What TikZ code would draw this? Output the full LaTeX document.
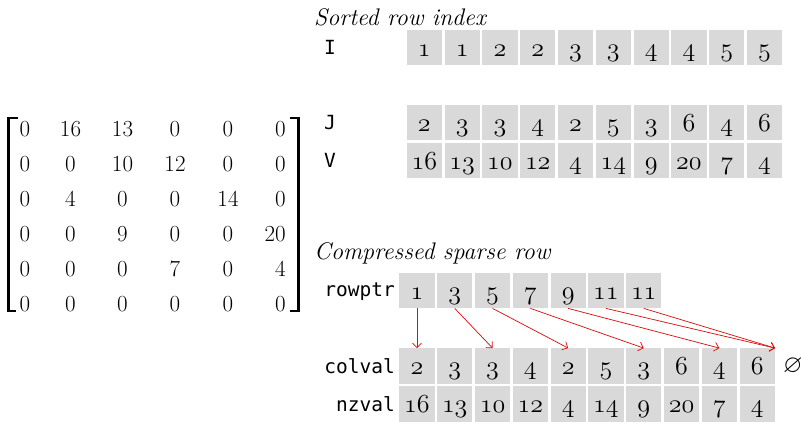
\RequirePackage{fix-cm}
\documentclass[tikz,border=0pt]{standalone}
\usepackage{amssymb}
\usepackage{fontspec}
\setmonofont{DejaVu Sans Mono}
\usetikzlibrary{arrows.meta}

\definecolor{cellgray}{RGB}{217,217,217}
\definecolor{ptrred}{RGB}{220,10,10}

% old-style figures taken from the math italic font
\newcommand\osnum[1]{{\usefont{OML}{cmm}{m}{it}#1}}

\tikzset{
  cellbox/.style={fill=cellgray, minimum width=35.3pt, minimum height=35.5pt,
    inner sep=0pt, text height=26.5pt, text depth=9pt,
    font=\fontsize{26}{30}\selectfont},
  arrlabel/.style={inner sep=0pt, font=\fontsize{19.5}{24}\selectfont\ttfamily},
  heading/.style={inner sep=0pt, font=\fontsize{24}{28}\selectfont\itshape},
  mentry/.style={inner sep=0pt, font=\fontsize{23}{28}\selectfont},
  bracket/.style={line width=2.6pt, line cap=butt, line join=miter},
  ptr/.style={draw=ptrred, line width=0.7pt, -{Straight Barb[length=4.5pt,width=9pt]}},
}

\begin{document}
\begin{tikzpicture}[x=1pt,y=-1pt]
\useasboundingbox (0,0) rectangle (801,422);

% ---- dense matrix ----
\foreach \row [count=\i] in {{0,16,13,0,0,0},{0,0,10,12,0,0},{0,4,0,0,14,0},
                             {0,0,9,0,0,20},{0,0,0,7,0,4},{0,0,0,0,0,0}}{
  \foreach \v [count=\j] in \row {
    \pgfmathsetmacro\cx{{25,70.5,122.5,175,228,286}[\j-1]}
    \pgfmathsetmacro\by{136.7+35*(\i-1)}
    \ifnum\j=6 \def\anc{base east}\else\def\anc{base}\fi
    \node[mentry,anchor=\anc] (m-\i-\j) at (\cx,\by) {\v};
  }
}
\draw[bracket] (18,118) -- (8.5,118) -- (8.5,311) -- (16,311);
\draw[bracket] (290,118) -- (298.5,118) -- (298.5,311) -- (290,311);

% ---- coordinate format, sorted by row ----
\node[heading, anchor=base west] (sorted) at (314,26) {Sorted row index};
\node[arrlabel, anchor=base west] (lI) at (324,55) {I};
\node[arrlabel, anchor=base west] (lJ) at (324,130) {J};
\node[arrlabel, anchor=base west] (lV) at (324,167.8) {V};
\foreach \v [count=\k] in {1,1,2,2,3,3,4,4,5,5}
  \node[cellbox] (I\k) at ({424.35+37.8*(\k-1)},47.5) {\osnum{\v}};
\foreach \v [count=\k] in {2,3,3,4,2,5,3,6,4,6}
  \node[cellbox] (J\k) at ({424.35+37.8*(\k-1)},122.75) {\osnum{\v}};
\foreach \v [count=\k] in {16,13,10,12,4,14,9,20,7,4}
  \node[cellbox] (V\k) at ({424.35+37.8*(\k-1)},160.55) {\osnum{\v}};

% ---- compressed sparse row ----
\node[heading, anchor=base west] (csr) at (314,260) {Compressed sparse row};
\node[arrlabel, anchor=base east] (lrp) at (395,296.7) {rowptr};
\node[arrlabel, anchor=base east] (lcv) at (395,373.3) {colval};
\node[arrlabel, anchor=base east] (lnz) at (395,411.1) {nzval};
\foreach \v [count=\k] in {1,3,5,7,9,11,11}
  \node[cellbox] (rp\k) at ({416.95+37.8*(\k-1)},290.45) {\osnum{\v}};
\foreach \v [count=\k] in {2,3,3,4,2,5,3,6,4,6}
  \node[cellbox] (cv\k) at ({416.95+37.8*(\k-1)},366.05) {\osnum{\v}};
\foreach \v [count=\k] in {16,13,10,12,4,14,9,20,7,4}
  \node[cellbox] (nz\k) at ({416.95+37.8*(\k-1)},403.85) {\osnum{\v}};
\node[inner sep=0pt, anchor=west, font=\fontsize{25}{30}\selectfont] (nil) at (783,366) {$\varnothing$};

% row pointers into colval
\coordinate (cvend) at (cv10.north east);
\foreach \k/\t in {1/1,2/3,3/5,4/7,5/9}
  \draw[ptr] (rp\k.south) -- (cv\t.north);
\draw[ptr] (rp6.south) -- (cvend);
\draw[ptr] (rp7.south) -- (cvend);
\end{tikzpicture}
\end{document}
